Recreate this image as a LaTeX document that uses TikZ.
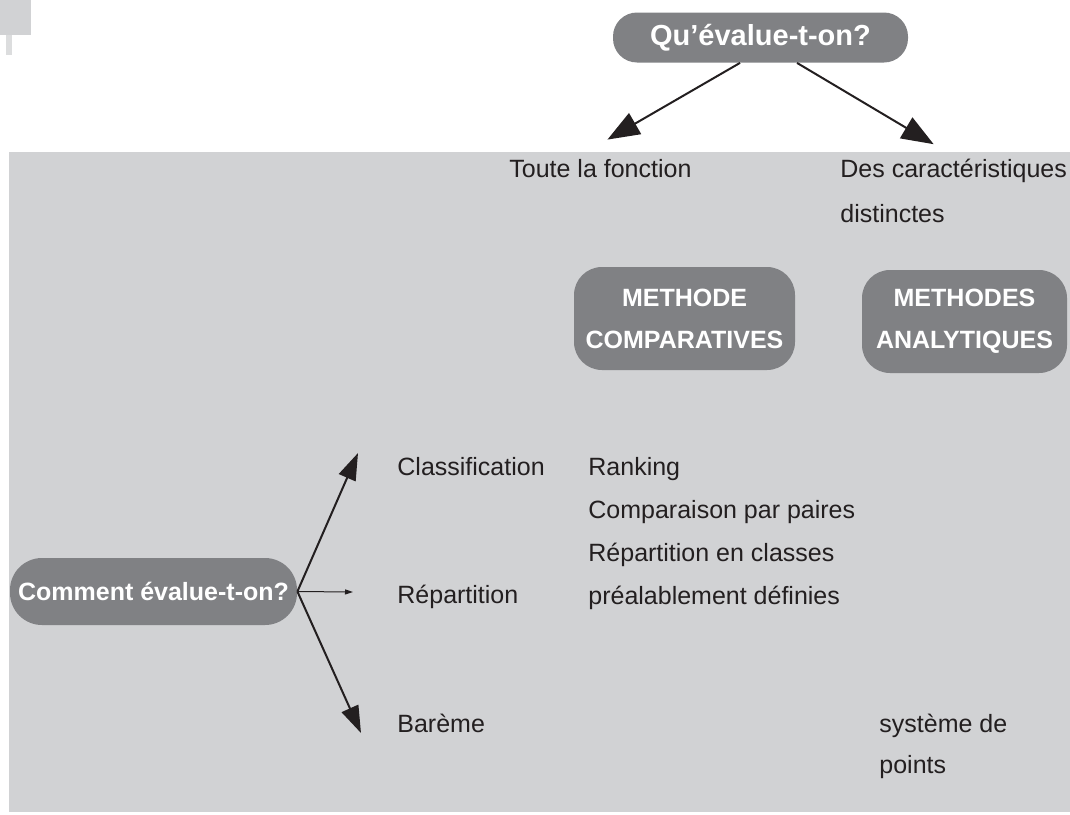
\documentclass[tikz,border=0pt]{standalone}
\usepackage{fontspec}
\setmainfont{Liberation Sans}
\usepackage{xcolor}
\usepackage{tikz}
\usetikzlibrary{arrows.meta, positioning, calc}
\definecolor{boxgray}{HTML}{808184}
\definecolor{panelgray}{HTML}{D1D2D4}
\definecolor{tabgray}{HTML}{DCDDDE}
\definecolor{ink}{HTML}{231F20}
\tikzstyle{question} = [rectangle, minimum height=25pt, text centered, fill=boxgray, text=white, inner sep=0pt]
\tikzstyle{methode} = [rectangle, rounded corners=14pt, minimum height=51.5pt, align=center, fill=boxgray, text=white, font=\bfseries\fontsize{12.5}{21}\selectfont, inner sep=0pt]
\tikzstyle{txt} = [anchor=base west, inner sep=0pt, text height=9pt, text depth=3pt, text=ink, font=\fontsize{12.5}{15}\selectfont]
\tikzstyle{txtblock} = [anchor=base west, inner sep=0pt, align=left, text=ink, font=\fontsize{12.5}{21.5}\selectfont]
\tikzstyle{arrow} = [line width=1pt, draw=ink, -{Triangle[length=16pt, width=12pt]}]
\tikzstyle{arrowb} = [line width=1pt, draw=ink, -{Triangle[length=13.5pt, width=9pt]}]
\tikzstyle{thinarrow} = [line width=0.5pt, draw=ink, -{Triangle[length=4pt, width=2.5pt]}]

\begin{document}
\begin{tikzpicture}[x=0.5pt, y=-0.5pt]
\useasboundingbox (0,0) rectangle (1070,814);
% panel and corner marks
\fill[panelgray] (9,152) rectangle (1070,812);
\fill[panelgray] (0,0) rectangle (31,35);
\fill[tabgray] (6,35) rectangle (12,55);

\node (qev) [question, rounded corners=12pt, minimum width=147.5pt, font=\bfseries\fontsize{14.5}{17}\selectfont] at (760.5,37.5) {Qu’évalue-t-on?};
\node (toute) [txt] at (509,177) {Toute la fonction};
% multi-line texts sit on the baseline of their last line
\node (descar) [txtblock, font=\fontsize{12.5}{22.5}\selectfont] at (840,222) {Des caractéristiques\\distinctes};

\node (mcomp) [methode, minimum width=110.5pt] at (684.5,318.5) {METHODE\\COMPARATIVES};
\node (manal) [methode, minimum width=102.5pt] at (964.5,321.5) {METHODES\\ANALYTIQUES};

\node (cev) [question, rounded corners=16pt, minimum width=143.5pt, minimum height=33.5pt, font=\bfseries\fontsize{12.5}{15}\selectfont] at (153.5,591.5) {Comment évalue-t-on?};
\node (classif) [txt] at (397,475) {Classification};
\node (rank) [txtblock] at (588,604) {Ranking\\Comparaison par paires\\Répartition en classes\\préalablement définies};
\node (repart) [txt] at (397,603) {Répartition};
\node (bareme) [txt] at (397,732) {Barème};
\node (syst) [txtblock, font=\fontsize{12.5}{20.5}\selectfont] at (879,773) {système de\\points};

\draw [arrow] ([xshift=-10.25pt]qev.south) -- ([xshift=3.5pt, yshift=9.5pt]toute.north);
\draw [arrow] ([xshift=18.25pt]qev.south) -- ([xshift=-10pt, yshift=7pt]descar.north);

\draw [arrowb] (cev.east) -- ([xshift=-19.5pt, yshift=8pt]classif.west);
\draw [thinarrow] (cev.east) -- ([xshift=-22pt, yshift=2.5pt]repart.west);
\draw [arrowb] (cev.east) -- ([xshift=-18pt, yshift=-3.5pt]bareme.west);
\end{tikzpicture}
\end{document}
